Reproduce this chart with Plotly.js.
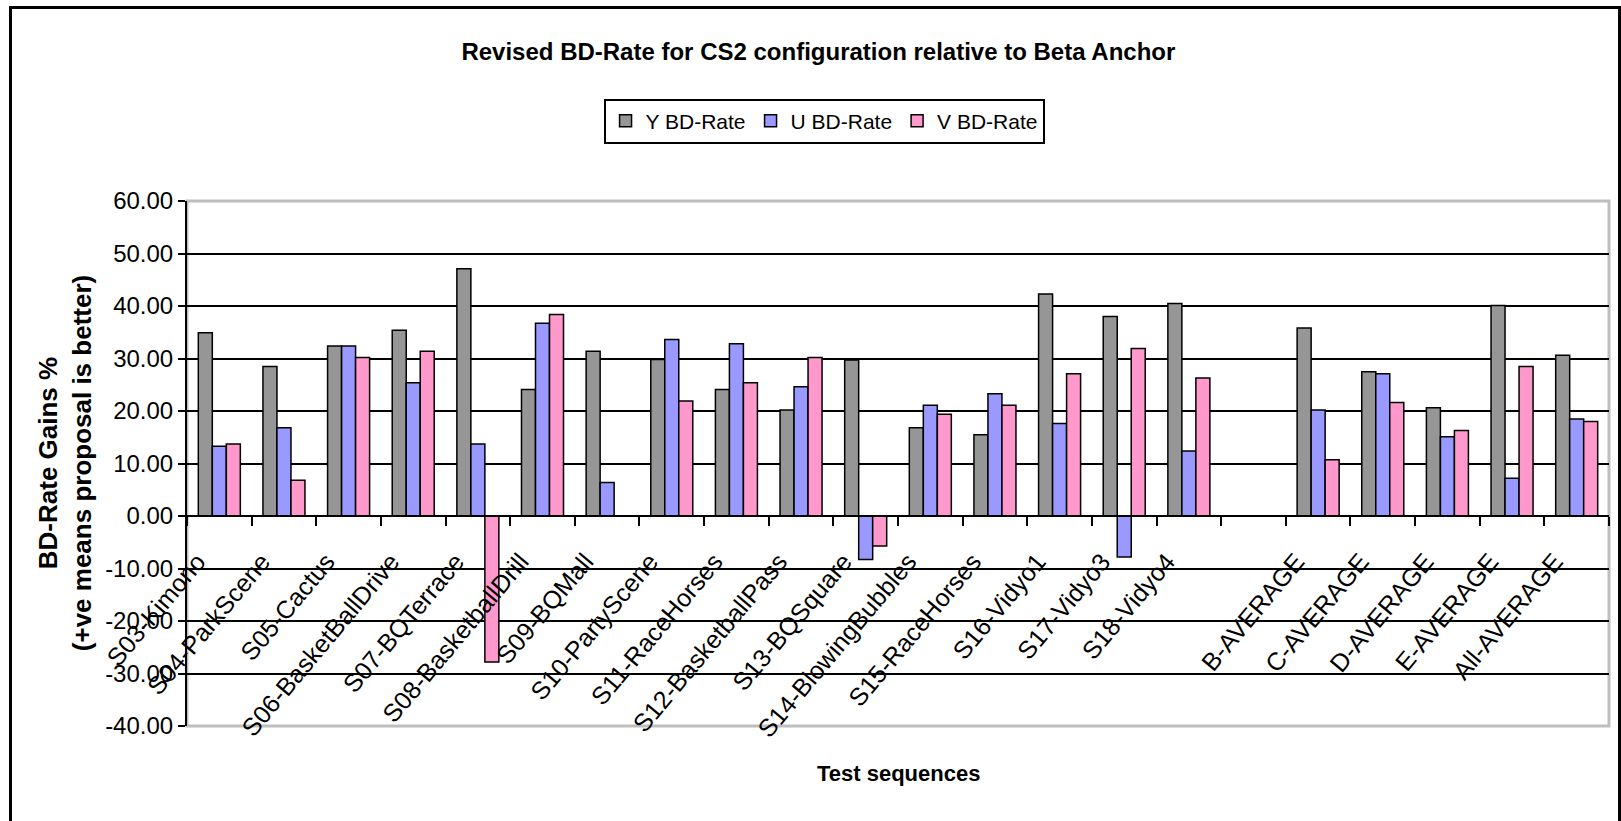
<!DOCTYPE html>
<html>
<head>
<meta charset="utf-8">
<script src="https://cdn.plot.ly/plotly-3.0.1.min.js"></script>
<style>
  html, body { margin: 0; padding: 0; background: #fff; }
  #wrap { position: relative; width: 1621px; height: 821px; overflow: hidden; }
  #chart { position: absolute; left: 0; top: 0; width: 1621px; height: 821px; }
  #frame { position: absolute; left: 9px; top: 6px; width: 1606px; height: 830px;
           border: 3px solid #000; pointer-events: none; }
</style>
</head>
<body>
<div id="wrap">
  <div id="chart"></div>
  <div id="frame"></div>
</div>
<script>
const categories = [
  "S03-Kimono", "S04-ParkScene", "S05-Cactus", "S06-BasketBallDrive", "S07-BQTerrace",
  "S08-BasketballDrill", "S09-BQMall", "S10-PartyScene", "S11-RaceHorses",
  "S12-BasketballPass", "S13-BQSquare", "S14-BlowingBubbles", "S15-RaceHorses",
  "S16-Vidyo1", "S17-Vidyo3", "S18-Vidyo4", " ",
  "B-AVERAGE", "C-AVERAGE", "D-AVERAGE", "E-AVERAGE", "All-AVERAGE"
];
const yBDRate = [34.9, 28.5, 32.4, 35.4, 47.1, 24.1, 31.4, 29.8, 24.1, 20.2, 29.7, 16.8, 15.5, 42.3, 38.0, 40.5, null, 35.8, 27.5, 20.6, 40.1, 30.6];
const uBDRate = [13.3, 16.8, 32.4, 25.4, 13.7, 36.7, 6.4, 33.6, 32.8, 24.6, -8.3, 21.1, 23.3, 17.6, -7.8, 12.4, null, 20.2, 27.1, 15.1, 7.2, 18.5];
const vBDRate = [13.7, 6.8, 30.2, 31.4, -27.8, 38.4, 0.0, 21.9, 25.4, 30.2, -5.7, 19.4, 21.1, 27.1, 31.9, 26.3, null, 10.7, 21.6, 16.3, 28.5, 18.0];
const seriesNames = ["Y BD-Rate", "U BD-Rate", "V BD-Rate"];
const yTickVals = [-40, -30, -20, -10, 0, 10, 20, 30, 40, 50, 60];

const FONT = "Liberation Sans, Arial, sans-serif";
const colors = ["#969696", "#9999FF", "#FF99CC"];
const seriesData = [yBDRate, uBDRate, vBDRate];

const traces = seriesData.map((vals, i) => ({
  type: "bar",
  name: seriesNames[i],
  x: categories,
  y: vals,
  marker: { color: colors[i], line: { color: "#000", width: 1.5 } },
  hoverinfo: "x+y+name"
}));

const layout = {
  width: 1621,
  height: 821,
  paper_bgcolor: "#fff",
  plot_bgcolor: "#fff",
  margin: { l: 187, r: 12, t: 201, b: 95, pad: 0 },
  font: { family: FONT, color: "#000", size: 20 },
  barmode: "group",
  bargap: 0.35,
  bargroupgap: 0,
  showlegend: true,
  title: {
    text: "<b>Revised BD-Rate for CS2 configuration relative to Beta Anchor</b>",
    font: { family: FONT, size: 24, color: "#000" },
    xref: "paper", x: 0.444, xanchor: "center",
    yref: "container", y: 0.937, yanchor: "middle"
  },
  legend: {
    orientation: "h",
    xref: "paper", yref: "paper",
    x: 0.448, xanchor: "center",
    y: 1.152, yanchor: "middle",
    bordercolor: "#000", borderwidth: 2,
    bgcolor: "#fff",
    font: { family: FONT, size: 21, color: "#000" },
    itemwidth: 30,
    traceorder: "normal"
  },
  xaxis: {
    type: "category",
    anchor: "free",
    position: 0.4,
    showline: true, linecolor: "#000", linewidth: 2,
    ticks: "outside", tickson: "boundaries", ticklen: 9, tickwidth: 2, tickcolor: "#000",
    tickangle: -50,
    ticklabelstandoff: 20,
    ticklabelshift: -22,
    tickfont: { family: FONT, size: 25, color: "#000" },
    showgrid: false, zeroline: false,
    fixedrange: true
  },
  yaxis: {
    range: [-40, 60],
    tickvals: yTickVals,
    ticktext: yTickVals.map(v => v.toFixed(2)),
    showline: true, linecolor: "#000", linewidth: 2,
    ticks: "outside", ticklen: 7, tickwidth: 2, tickcolor: "#000",
    tickfont: { family: FONT, size: 24, color: "#000" },
    showgrid: true, gridcolor: "#000", gridwidth: 2,
    zeroline: false,
    fixedrange: true
  },
  shapes: [
    { type: "rect", xref: "paper", yref: "paper", x0: 0, x1: 1, y0: 0, y1: 1,
      line: { color: "#BEBEBE", width: 3 }, layer: "below" }
  ],
  annotations: [
    {
      text: "<b>BD-Rate Gains %<br>(+ve means proposal is better)</b>",
      xref: "paper", yref: "paper", x: -0.086, y: 0.5,
      xanchor: "center", yanchor: "middle",
      textangle: -90, showarrow: false,
      font: { family: FONT, size: 26, color: "#000" }
    },
    {
      text: "<b>Test sequences</b>",
      xref: "paper", yref: "paper", x: 0.5, y: -0.09,
      xanchor: "center", yanchor: "middle",
      showarrow: false,
      font: { family: FONT, size: 22, color: "#000" }
    }
  ]
};

Plotly.newPlot("chart", traces, layout, { displayModeBar: false, staticPlot: true });
</script>
</body>
</html>
